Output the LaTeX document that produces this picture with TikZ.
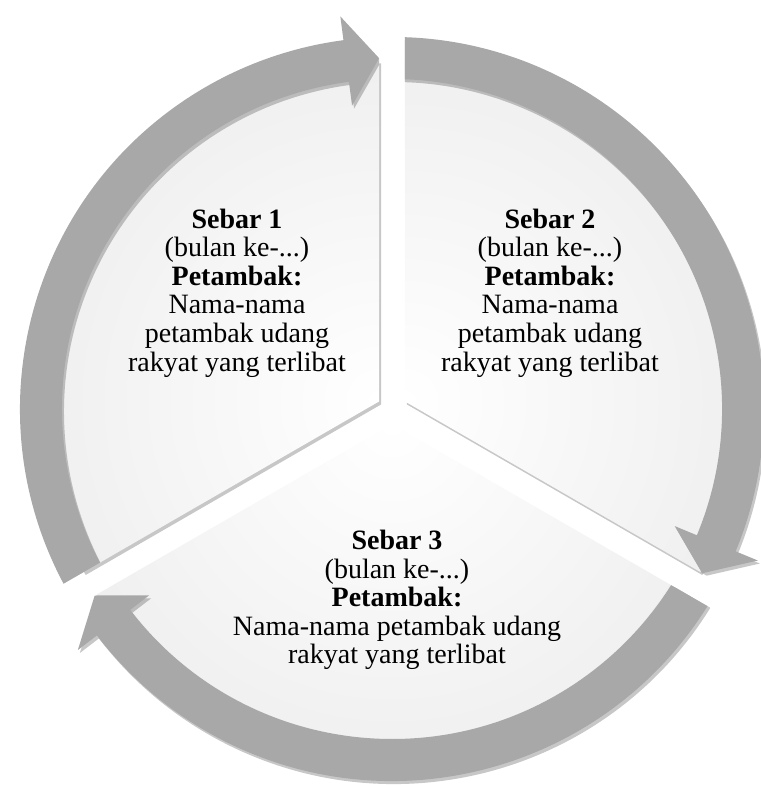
\documentclass[tikz,border=0pt]{standalone}
\usepackage{fontspec}
\setmainfont{Liberation Serif}
\definecolor{ringgray}{RGB}{168,168,168}
\definecolor{segouter}{RGB}{224,224,224}
\usetikzlibrary{calc}

\begin{document}
\begin{tikzpicture}[
  x=0.5pt, y=0.5pt,
  segtext/.style={align=center,font=\fontsize{14}{14.3}\selectfont},
  segshade/.style={inner color=white,outer color=segouter},
  arrowfill/.style={fill=ringgray},
  softshadow/.style={preaction={fill=black,opacity=0.22,
                     transform canvas={shift={(1pt,-1.5pt)}}}},
]
  \useasboundingbox (0,0) rectangle (760,785);
  \coordinate (O) at (392,376);
  % apexes, pushed out along each bisector
  \coordinate (A1) at ($(O)+(150:15)$);
  \coordinate (A2) at ($(O)+(30:15)$);
  \coordinate (A3) at ($(O)+(270:15)$);

  % Segment 1
  \path[softshadow,path picture={\shade[segshade] (A1) circle (682);}]
    (A1) -- ++(90:341) arc[start angle=90,end angle=210,radius=341] -- cycle;
  % Segment 2
  \path[softshadow,path picture={\shade[segshade] (A2) circle (682);}]
    (A2) -- ++(-30:341) arc[start angle=-30,end angle=90,radius=341] -- cycle;
  % Segment 3
  \path[softshadow,path picture={\shade[segshade] (A3) circle (682);}]
    (A3) -- ++(210:341) arc[start angle=210,end angle=330,radius=341] -- cycle;

  % Arrow 1
  \begin{scope}
    \clip (A1) -- ($(A1)+(210:900)$) -- ($(A1)+(150:900)$) -- ($(A1)+(90:900)$) -- cycle;
    \begin{scope}[shift={(O)}]
      \fill[arrowfill,softshadow] (213:372) arc[start angle=213,end angle=97.5,radius=372]
        -- (97.5:396) -- (92.1:351) -- (97.5:306)
        -- (97.5:330) arc[start angle=97.5,end angle=213,radius=330] -- cycle;
    \end{scope}
  \end{scope}
  % Arrow 2
  \begin{scope}
    \clip (A2) -- ($(A2)+(90:900)$) -- ($(A2)+(30:900)$) -- ($(A2)+(-30:900)$) -- cycle;
    \begin{scope}[shift={(O)}]
      \fill[arrowfill,softshadow] (93:372) arc[start angle=93,end angle=-22.5,radius=372]
        -- (-22.5:396) -- (-27.9:351) -- (-22.5:306)
        -- (-22.5:330) arc[start angle=-22.5,end angle=93,radius=330] -- cycle;
    \end{scope}
  \end{scope}
  % Arrow 3
  \begin{scope}
    \clip (A3) -- ($(A3)+(-30:900)$) -- ($(A3)+(-90:900)$) -- ($(A3)+(-150:900)$) -- cycle;
    \begin{scope}[shift={(O)}]
      \fill[arrowfill,softshadow] (-27:372) arc[start angle=-27,end angle=-142.5,radius=372]
        -- (-142.5:396) -- (-147.9:351) -- (-142.5:306)
        -- (-142.5:330) arc[start angle=-142.5,end angle=-27,radius=330] -- cycle;
    \end{scope}
  \end{scope}

  % Labels
  \node[segtext] (sebar1) at (237,492) {\textbf{Sebar 1}\\(bulan ke-...)\\\textbf{Petambak:}\\
    Nama-nama\\petambak udang\\rakyat yang terlibat};
  \node[segtext] (sebar2) at (550,492) {\textbf{Sebar 2}\\(bulan ke-...)\\\textbf{Petambak:}\\
    Nama-nama\\petambak udang\\rakyat yang terlibat};
  \node[segtext] (sebar3) at (397,185) {\textbf{Sebar 3}\\(bulan ke-...)\\\textbf{Petambak:}\\
    Nama-nama petambak udang\\rakyat yang terlibat};
\end{tikzpicture}
\end{document}
